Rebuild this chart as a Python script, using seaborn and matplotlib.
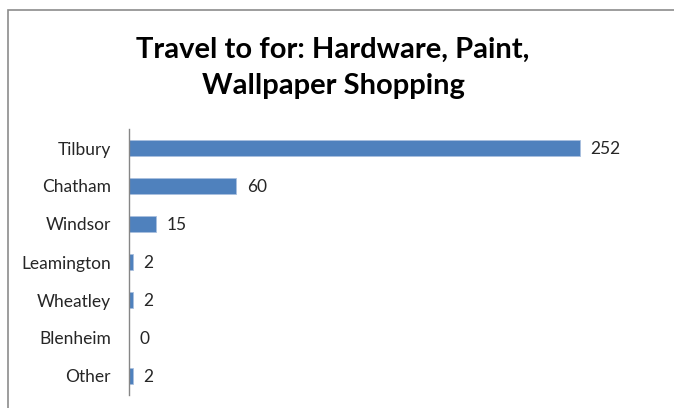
import matplotlib
matplotlib.use("Agg")
import matplotlib.pyplot as plt
import seaborn as sns
import pandas as pd
from matplotlib.patches import Rectangle

# Survey counts: where residents travel for hardware / paint / wallpaper shopping
destinations = ["Tilbury", "Chatham", "Windsor", "Leamington", "Wheatley", "Blenheim", "Other"]
counts = [252, 60, 15, 2, 2, 0, 2]

df = pd.DataFrame({"destination": destinations, "count": counts})

sns.set_theme(style="white")
plt.rcParams["font.family"] = ["Lato", "DejaVu Sans"]

W, H = 674, 408
fig = plt.figure(figsize=(W / 100, H / 100), dpi=100)

# chart frame
fig.patches.append(Rectangle((8 / W, -0.05), 1.1, 1 - 10 / H + 0.05,
                             transform=fig.transFigure, fill=False,
                             edgecolor="#8c8c8c", linewidth=1.2))

ax_left, ax_right = 129, 666
ax_top, ax_bottom = 129, 395
ax = fig.add_axes([ax_left / W, 1 - ax_bottom / H,
                   (ax_right - ax_left) / W, (ax_bottom - ax_top) / H])

sns.barplot(data=df, x="count", y="destination", orient="h", ax=ax,
            color="#4F81BD", saturation=1, width=0.4,
            edgecolor="#a9c0df", linewidth=0.6)

ax.set_xlim(0, 300)
ax.set_ylim(len(destinations) - 0.5, -0.5)

for i, v in enumerate(counts):
    ax.annotate(str(v), xy=(v, i), xytext=(7.5, -1), textcoords="offset points",
                va="center", ha="left", fontsize=12.5, color="#262626")

ax.set_xlabel("")
ax.set_ylabel("")
ax.set_xticks([])
ax.tick_params(axis="y", length=0, pad=13, labelsize=12.5, labelcolor="#262626")
for s in ["top", "right", "bottom"]:
    ax.spines[s].set_visible(False)
ax.spines["left"].set_color("#868686")
ax.spines["left"].set_linewidth(1.0)

fig.text(333 / W, 1 - 68 / H, "Travel to for: Hardware, Paint,\nWallpaper Shopping",
         ha="center", va="center", multialignment="center",
         fontsize=21, fontweight="bold", color="black", linespacing=1.45)

fig.savefig("out.png", dpi=100)
